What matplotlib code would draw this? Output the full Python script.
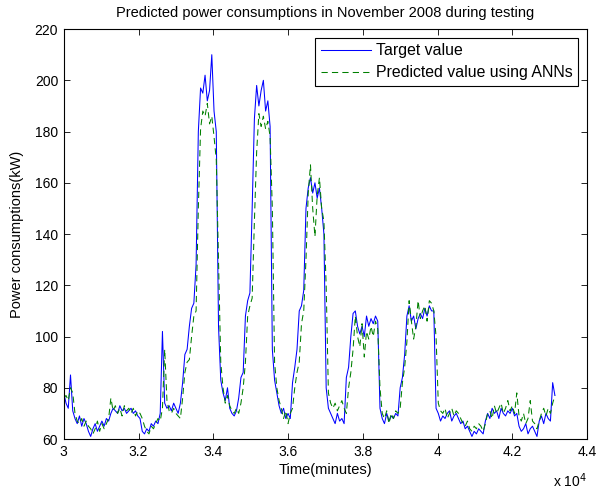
import numpy as np
import matplotlib.pyplot as plt
from matplotlib import rcParams

rcParams['font.family'] = ['Liberation Sans', 'DejaVu Sans']

# time axis: one sample every 60 minutes starting at 30000
t_start = 30000
t_step = 60

target = [
    78, 74, 72, 85, 71, 68, 66, 69, 65, 68,
    66, 63, 61, 64, 66, 63, 65, 67, 65, 68,
    67, 70, 72, 71, 70, 73, 71, 72, 70, 71,
    72, 70, 71, 69, 68, 63, 62, 64, 63, 66,
    65, 67, 66, 70, 102, 74, 72, 73, 71, 74,
    72, 70, 74, 82, 93, 95, 104, 111, 113, 128,
    180, 197, 195, 202, 192, 196, 210, 188, 180, 104,
    83, 78, 75, 80, 72, 70, 69, 71, 76, 84,
    86, 108, 114, 117, 150, 185, 198, 190, 196, 200,
    188, 192, 182, 95, 83, 78, 73, 70, 72, 68,
    70, 68, 82, 88, 95, 110, 112, 118, 150, 158,
    162, 156, 160, 154, 158, 150, 140, 80, 72, 70,
    68, 66, 70, 67, 68, 66, 84, 88, 100, 109,
    110, 104, 101, 104, 100, 108, 104, 107, 105, 108,
    106, 72, 68, 66, 70, 67, 69, 68, 70, 69,
    80, 84, 93, 108, 112, 106, 108, 103, 107, 109,
    107, 111, 108, 112, 110, 110, 72, 70, 67, 69,
    68, 70, 71, 67, 69, 70, 68, 66, 67, 64,
    65, 63, 61, 63, 62, 64, 63, 62, 67, 70,
    68, 72, 70, 71, 68, 72, 70, 69, 71, 70,
    72, 69, 70, 65, 63, 64, 66, 62, 64, 65,
    63, 61, 67, 69, 66, 70, 68, 67, 82, 77,
]

predicted = [
    76, 77, 75, 80, 78, 70, 67, 66, 68, 65,
    67, 65, 64, 62, 64, 67, 63, 66, 64, 66,
    68, 76, 71, 73, 70, 72, 69, 73, 71, 72,
    70, 72, 69, 71, 70, 68, 65, 63, 62, 65,
    64, 66, 68, 67, 72, 95, 75, 71, 70, 72,
    70, 69, 68, 76, 86, 90, 91, 100, 108, 110,
    150, 181, 188, 186, 191, 183, 186, 178, 169, 130,
    90, 80, 74, 77, 73, 71, 70, 72, 70, 74,
    80, 90, 108, 112, 115, 145, 172, 187, 182, 186,
    181, 184, 178, 150, 90, 80, 75, 72, 68, 71,
    66, 70, 72, 80, 86, 90, 105, 110, 130, 156,
    167, 150, 139, 155, 162, 150, 145, 120, 78, 74,
    72, 74, 71, 73, 75, 72, 70, 80, 86, 95,
    108, 100, 96, 105, 92, 102, 99, 104, 100, 106,
    103, 80, 70, 68, 71, 66, 70, 68, 71, 70,
    72, 82, 88, 98, 114, 106, 99, 104, 114, 107,
    110, 112, 106, 114, 113, 110, 100, 74, 71, 70,
    72, 68, 70, 72, 69, 71, 70, 68, 66, 65,
    67, 64, 63, 65, 64, 66, 65, 63, 66, 70,
    71, 68, 73, 70, 72, 74, 70, 72, 75, 71,
    73, 70, 78, 69, 67, 70, 66, 68, 75, 67,
    66, 64, 67, 70, 72, 69, 72, 70, 74, 77,
]

xticks = [30000, 32000, 34000, 36000, 38000, 40000, 42000, 44000]
xtick_labels = ['3', '3.2', '3.4', '3.6', '3.8', '4', '4.2', '4.4']
yticks = [60, 80, 100, 120, 140, 160, 180, 200, 220]

t = t_start + t_step * np.arange(len(target))

fig = plt.figure(figsize=(5.96, 4.93), dpi=100)
ax = fig.add_axes([0.107, 0.1095, 0.878, 0.8315])

ax.plot(t, target, color=(0, 0, 1), lw=0.75, label='Target value')
ax.plot(t, predicted, color=(0, 0.5, 0), lw=0.75, ls='--', dashes=(6, 4),
        label='Predicted value using ANNs')

ax.set_xlim(30000, 44000)
ax.set_ylim(60, 220)
ax.set_xticks(xticks)
ax.set_xticklabels(xtick_labels)
ax.set_yticks(yticks)
ax.tick_params(direction='in', top=True, right=True, labelsize=10, length=4.5,
               width=0.6, pad=4)
for s in ax.spines.values():
    s.set_linewidth(0.8)

ax.text(1.0, -0.08, 'x 10$^4$', transform=ax.transAxes, ha='right', va='top', fontsize=10)

ax.set_title('Predicted power consumptions in November 2008 during testing',
             fontsize=10.5, pad=9)
ax.set_xlabel('Time(minutes)', fontsize=10.5, labelpad=3)
ax.set_ylabel('Power consumptions(kW)', fontsize=10.5, labelpad=8)

leg = ax.legend(loc='upper right', fontsize=11.4, fancybox=False, framealpha=1,
                edgecolor='black', borderaxespad=0.55, handlelength=3.2,
                borderpad=0.35, labelspacing=0.45, handletextpad=0.3)
leg.get_frame().set_linewidth(0.8)

fig.savefig('out.png', dpi=100)
